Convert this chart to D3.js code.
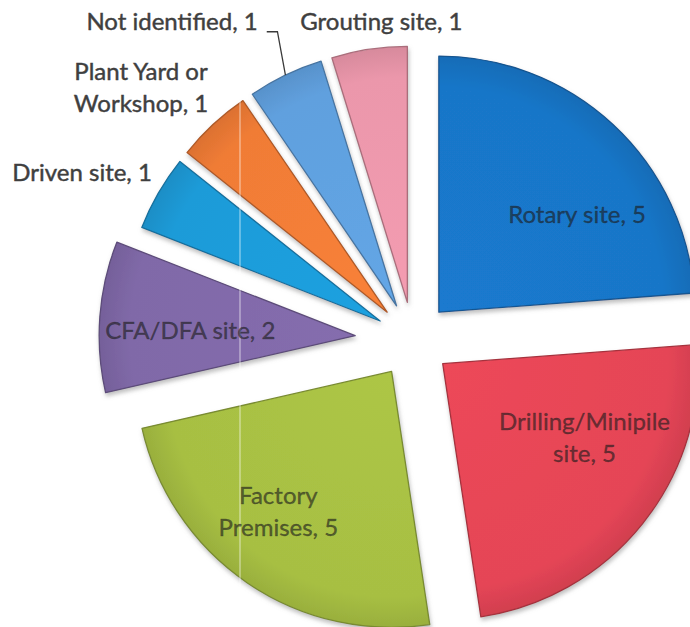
<!DOCTYPE html>
<html>
<head>
<meta charset="utf-8">
<script src="https://cdn.jsdelivr.net/npm/d3@7"></script>
<style>
  html, body { margin: 0; padding: 0; background: #fff; }
  svg { display: block; }
</style>
</head>
<body>
<div id="chart"></div>
<script>
// slices, clockwise from 12 o'clock
const categories = ["Rotary site", "Drilling/Minipile site", "Factory Premises", "CFA/DFA site",
                    "Driven site", "Plant Yard or Workshop", "Not identified", "Grouting site"];
const counts = [5, 5, 5, 2, 1, 1, 1, 1];
const sliceColors = ["#1976c8", "#e54556", "#a7bf43", "#8069a8", "#1d9bd8", "#f07c36", "#60a0de", "#eb97ab"];

// words on the first line when a label wraps
const labelBreak = {"Drilling/Minipile site": 1, "Factory Premises": 1, "Plant Yard or Workshop": 3};

const width = 690, height = 627;
const center = {x: 413, y: 340};
const radius = 256;
const explodeDefault = 38;
const explodeExtra = {"CFA/DFA site": 58};
// label placement relative to the slice apex: angle shift (deg) and distance
const labelPlace = {
  "Rotary site": {inside: true, da: 12, r: 169},
  "Drilling/Minipile site": {inside: true, da: -11, r: 160},
  "Factory Premises": {inside: true, da: 4.7, r: 180},
  "CFA/DFA site": {inside: true, da: -2.5, r: 165},
  "Driven site": {inside: false, da: -3.5, r: 333},
  "Plant Yard or Workshop": {inside: false, da: -4.8, r: 333},
  "Not identified": {inside: false, da: -12.6, r: 362, leader: true},
  "Grouting site": {inside: false, da: 3.3, r: 282}
};

const data = categories.map((c, i) => ({category: c, value: counts[i], color: sliceColors[i]}));

const svg = d3.select('#chart')
  .append('svg')
  .attr('width', width)
  .attr('height', height)
  .style('background-color', '#fff');

const defs = svg.append('defs');
const shadow = defs.append('filter').attr('id', 'shadow')
  .attr('x', '-20%').attr('y', '-20%').attr('width', '140%').attr('height', '140%');
shadow.append('feDropShadow')
  .attr('dx', 1).attr('dy', 3).attr('stdDeviation', 2)
  .attr('flood-color', '#8a8a8a').attr('flood-opacity', 0.55);

const pie = d3.pie().sort(null).value(d => d.value);
const arc = d3.arc().innerRadius(0).outerRadius(radius);
const arcs = pie(data);

const polar = (deg, r) => {
  const a = deg * Math.PI / 180;
  return [Math.sin(a) * r, -Math.cos(a) * r];
};

arcs.forEach(d => {
  d.mid = (d.startAngle + d.endAngle) / 2 * 180 / Math.PI;
  const off = explodeExtra[d.data.category] || explodeDefault;
  const [dx, dy] = polar(d.mid, off);
  d.apex = [center.x + dx, center.y + dy];
});

// slices
const slices = svg.append('g').selectAll('g.slice')
  .data(arcs)
  .join('g')
  .attr('class', 'slice')
  .attr('transform', d => `translate(${d.apex[0]}, ${d.apex[1]})`);

slices.each(function(d, i) {
  const g = d3.select(this);
  const base = d3.color(d.data.color);
  const grad = defs.append('radialGradient')
    .attr('id', 'grad' + i)
    .attr('gradientUnits', 'userSpaceOnUse')
    .attr('cx', 0).attr('cy', 0).attr('r', radius);
  grad.append('stop').attr('offset', '0%').attr('stop-color', base.brighter(0.1));
  grad.append('stop').attr('offset', '88%').attr('stop-color', base);
  grad.append('stop').attr('offset', '100%').attr('stop-color', base.darker(0.25));
  g.append('path')
    .attr('d', arc(d))
    .attr('fill', `url(#grad${i})`)
    .attr('stroke', base.darker(0.9))
    .attr('stroke-width', 1.3)
    .attr('stroke-linejoin', 'round')
    .attr('filter', 'url(#shadow)');
});

// faint scan streak
svg.append('line')
  .attr('x1', 240).attr('x2', 240).attr('y1', 0).attr('y2', height)
  .attr('stroke', '#fff').attr('stroke-opacity', 0.55).attr('stroke-width', 1.2);

// labels
const lineHeight = 32;
const fontSize = 24;
const labels = svg.append('g')
  .attr('font-family', 'Lato, "Open Sans", sans-serif')
  .attr('font-size', fontSize)
  .attr('text-anchor', 'middle');

arcs.forEach(d => {
  const cat = d.data.category;
  const place = labelPlace[cat];
  const words = `${cat}, ${d.data.value}`.split(' ');
  const k = labelBreak[cat];
  const lines = k ? [words.slice(0, k).join(' '), words.slice(k).join(' ')] : [words.join(' ')];
  const [dx, dy] = polar(d.mid + place.da, place.r);
  const cx = d.apex[0] + dx, cy = d.apex[1] + dy;
  const ink = place.inside ? '#1c1c1c' : '#3f3f3f';
  const t = labels.append('text')
    .attr('fill', ink)
    .attr('stroke', ink)
    .attr('stroke-width', 0.45)
    .attr('fill-opacity', place.inside ? 0.62 : 1)
    .attr('stroke-opacity', place.inside ? 0.5 : 1);
  lines.forEach((ln, j) => {
    t.append('tspan')
      .attr('x', cx)
      .attr('y', cy + (j - (lines.length - 1) / 2) * lineHeight + 8.5)
      .text(ln);
  });
  if (place.leader) {
    const w = t.node().getComputedTextLength();
    const [ex, ey] = polar(d.mid, radius);
    const end = [d.apex[0] + ex, d.apex[1] + ey];
    const y0 = cy + 10;
    svg.append('polyline')
      .attr('points', [[cx + w / 2 + 9, y0], [end[0] - 8, y0], end].map(p => p.join(',')).join(' '))
      .attr('fill', 'none')
      .attr('stroke', '#3a3a3a')
      .attr('stroke-width', 1.3);
  }
});
</script>
</body>
</html>
